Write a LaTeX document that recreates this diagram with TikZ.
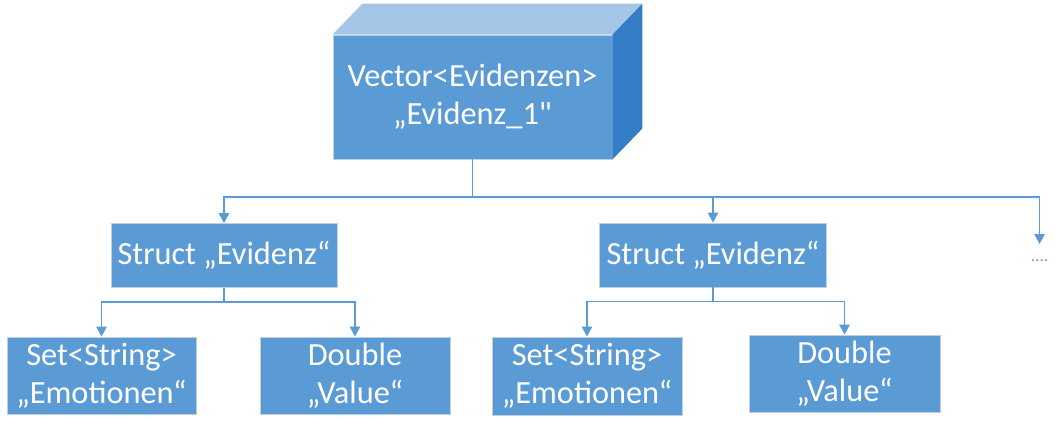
\documentclass[tikz,border=0pt]{standalone}
\usepackage{fontspec}
\setmainfont{Carlito}[Ligatures=TeXOff]
\usetikzlibrary{arrows.meta, positioning}
\definecolor{boxblue}{RGB}{91,155,213}
\definecolor{topblue}{RGB}{164,198,230}
\definecolor{sideblue}{RGB}{51,126,198}
\definecolor{edgegray}{RGB}{192,208,226}

\begin{document}
\begin{tikzpicture}[
x=0.025cm, y=-0.025cm,
box/.style={draw=edgegray, fill=boxblue, text=white, align=center, inner sep=0pt, line width=0.6pt, font=\fontsize{23}{27}\selectfont},
arrow/.style={-{Triangle[length=0.25cm, width=0.26cm]}, draw=boxblue, line width=0.04cm}
]
\useasboundingbox (0,0) rectangle (1056,430);

\node (vector) [box, minimum width=6.975cm, minimum height=3.1cm] at (472.5,97) {Vector<Evidenzen>\\„Evidenz\_1"};
\fill[topblue] (vector.north west) -- ++(30,-31) -- ([shift={(30,-31)}]vector.north east) -- (vector.north east) -- cycle;
\fill[sideblue] (vector.north east) -- ++(30,-31) -- ([shift={(30,-31)}]vector.south east) -- (vector.south east) -- cycle;

\node (evid1) [box, minimum width=5.65cm, minimum height=1.6cm] at (224,255.5) {Struct „Evidenz“};
\node (evid2) [box, minimum width=5.675cm, minimum height=1.6cm] at (713,255) {Struct „Evidenz“};

\node (emo1) [box, minimum width=4.725cm, minimum height=1.925cm] at (101.5,375.5) {Set<String>\\„Emotionen“};
\node (val1) [box, minimum width=4.75cm, minimum height=1.925cm] at (355,375.5) {Double\\„Value“};
\node (emo2) [box, minimum width=4.75cm, minimum height=1.95cm] at (587,376) {Set<String>\\„Emotionen“};
\node (val2) [box, minimum width=4.775cm, minimum height=1.925cm] at (844.5,373.5) {Double\\„Value“};

\coordinate (bus) at (472.5,197);
\coordinate (more) at (1039.5,244);
\node (dots) [anchor=base, text=boxblue, font=\fontsize{12}{14}\selectfont, inner sep=0pt] at (1039.5,261) {....};

\draw[arrow] (vector.south) -- (vector.south |- bus) -| (evid1.north);
\draw[arrow] (vector.south) -- (vector.south |- bus) -| (evid2.north);
\draw[arrow] (vector.south) -- (vector.south |- bus) -| (more);

\draw[arrow] (evid1.south) -- ++(0,14) -| (emo1.north);
\draw[arrow] (evid1.south) -- ++(0,14) -| (val1.north);
\draw[arrow] (evid2.south) -- ++(0,14) -| (emo2.north);
\draw[arrow] (evid2.south) -- ++(0,14) -| (val2.north);

\end{tikzpicture}
\end{document}
